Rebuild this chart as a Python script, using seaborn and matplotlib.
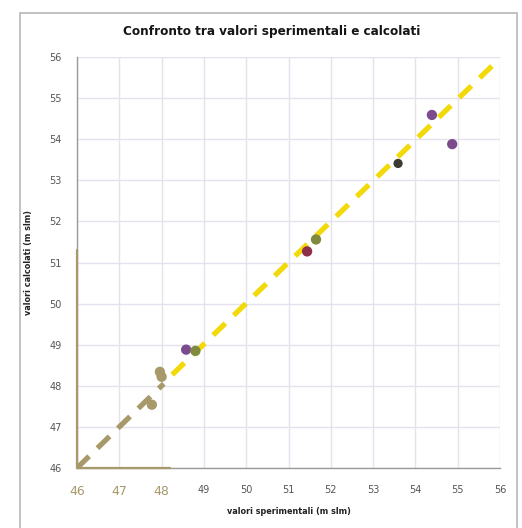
import matplotlib
matplotlib.use("Agg")
import matplotlib.pyplot as plt
import seaborn as sns
from matplotlib.patches import Rectangle

# ---- data ----
purple_x = [48.58, 54.39, 54.87]
purple_y = [48.88, 54.59, 53.88]
red_x = [51.44]
red_y = [51.27]
olive_x = [48.80, 51.65]
olive_y = [48.85, 51.56]
dark_x = [53.59]
dark_y = [53.41]
tan_x = [47.96, 48.00, 47.77]
tan_y = [48.34, 48.22, 47.54]
yellow_line_x = [48.25, 55.95]
yellow_line_y = [48.27, 55.92]
tan_line_x = [46.0, 48.05]
tan_line_y = [46.0, 48.05]
ticks = list(range(46, 57))

title = "Confronto tra valori sperimentali e calcolati"
xlabel = "valori sperimentali (m slm)"
ylabel = "valori calcolati (m slm)"

sns.set_theme(style="white")
plt.rcParams['font.family'] = ['DejaVu Sans']

fig = plt.figure(figsize=(5.22, 5.28), dpi=100)
ax = fig.add_axes([77/522, 1-468/528, (500-77)/522, (468-57)/528])

fig.patches.append(Rectangle((20/522, -0.01), (517-20)/522, 1-13/528+0.01,
                             transform=fig.transFigure, fill=False,
                             edgecolor="#b8b8b8", linewidth=1.2))

grid_c = "#e4e2ec"
tan = "#a8996a"
ax.set_xlim(46, 56)
ax.set_ylim(46, 56)
ax.set_xticks(ticks)
ax.set_yticks(ticks)
ax.grid(True, color=grid_c, linewidth=1.0)
ax.set_axisbelow(True)

sns.lineplot(x=yellow_line_x, y=yellow_line_y, ax=ax, color="#f2d90a", linewidth=3.8,
             linestyle=(0, (3.2, 2.2)), zorder=3)
sns.lineplot(x=tan_line_x, y=tan_line_y, ax=ax, color=tan, linewidth=3.8,
             linestyle=(0, (3.2, 2.2)), zorder=3)

ms = 55
sns.scatterplot(x=tan_x, y=tan_y, ax=ax, color=tan, s=ms, edgecolor="none", zorder=4)
sns.scatterplot(x=purple_x, y=purple_y, ax=ax, color="#7b4b8e", s=ms, edgecolor="none", zorder=4)
sns.scatterplot(x=red_x, y=red_y, ax=ax, color="#8e2f4a", s=ms, edgecolor="none", zorder=4)
sns.scatterplot(x=olive_x, y=olive_y, ax=ax, color="#7f8a3e", s=ms, edgecolor="none", zorder=4)
sns.scatterplot(x=dark_x, y=dark_y, ax=ax, color="#3d3a30", s=ms*0.8, edgecolor="none", zorder=4)

for s in ["top", "right"]:
    ax.spines[s].set_visible(False)
for s in ["left", "bottom"]:
    ax.spines[s].set_color("#9a9a9a")
    ax.spines[s].set_linewidth(1.0)
ax.axvline(46, ymin=0, ymax=0.53, color=tan, linewidth=1.6, clip_on=False, zorder=5)
ax.axhline(46, xmin=0, xmax=0.22, color=tan, linewidth=1.6, clip_on=False, zorder=5)

ax.tick_params(axis="both", which="major", length=3, width=0.8, color="#9a9a9a",
               labelsize=7, labelcolor="#555555", direction="out")
ax.tick_params(axis="x", pad=9)
ax.tick_params(axis="y", pad=8)
for lab in ax.get_xticklabels():
    if int(float(lab.get_text().replace('−', '-'))) <= 48:
        lab.set_color(tan)
        lab.set_fontsize(9)

ax.set_xlabel(xlabel, fontsize=6.5, color="#222222", labelpad=7, fontweight="bold",
              fontstretch="condensed")
ax.set_ylabel(ylabel, fontsize=6.5, color="#222222", labelpad=12, fontweight="bold",
              fontstretch="condensed")
fig.text(272/522, 1-32/528, title, ha="center", va="center", fontsize=9.6,
         color="#151515", fontweight="bold", fontstretch="condensed")

fig.savefig("out.png", dpi=100)
